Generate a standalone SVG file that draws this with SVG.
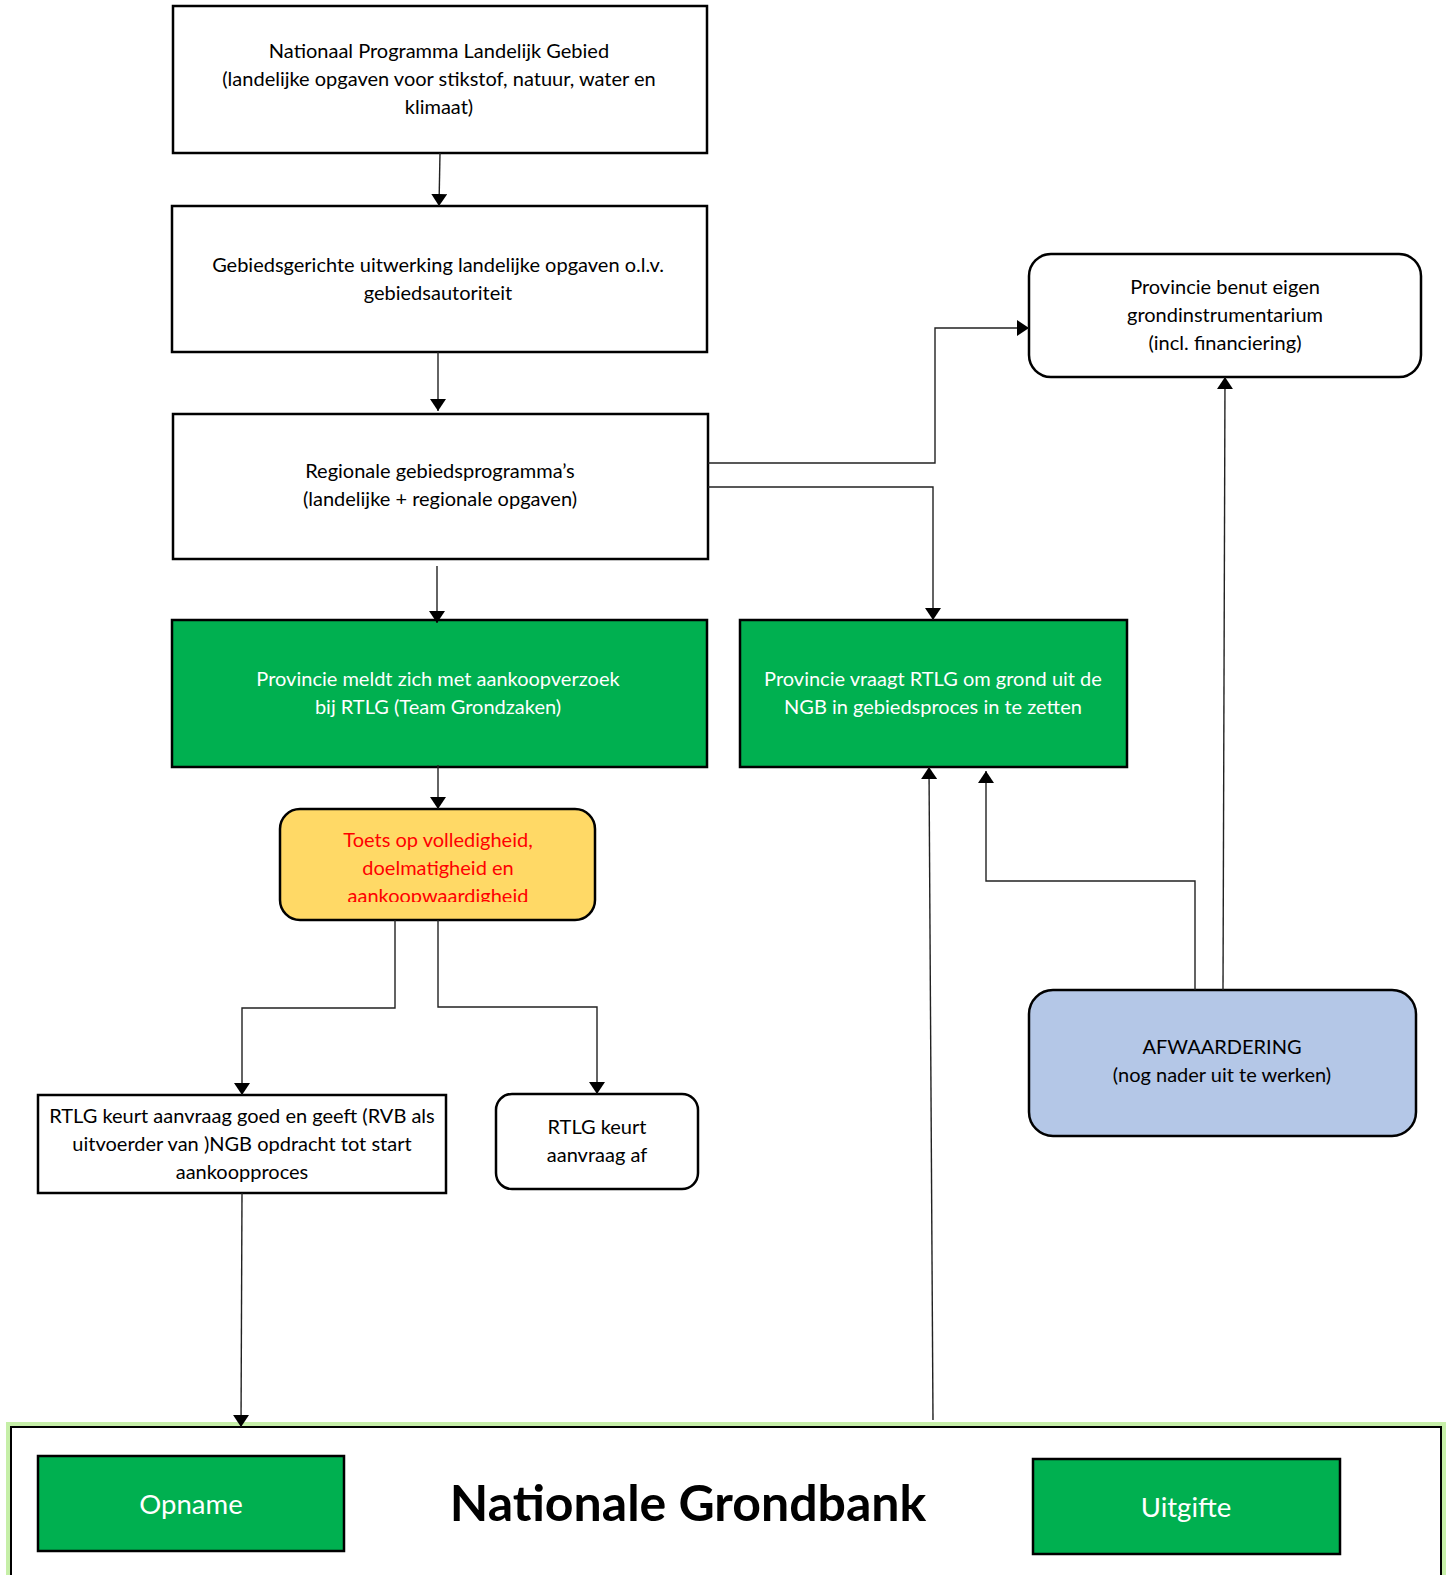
<svg xmlns="http://www.w3.org/2000/svg" width="1448" height="1575" viewBox="0 0 1448 1575">
<style>
.box{fill:#fff;stroke:#000;stroke-width:2.5}
.green{fill:#00B050;stroke:#000;stroke-width:2.5}
.t{font-family:Lato,"Open Sans","Liberation Sans",sans-serif;font-size:20px;fill:#000;text-anchor:middle}
.w{fill:#fff}
.r{fill:#FF0000}
.c{fill:none;stroke:#222;stroke-width:1.4}
</style>
<defs>
<marker id="a" viewBox="0 0 12 16" refX="12" refY="8" markerWidth="12" markerHeight="16" markerUnits="userSpaceOnUse" orient="auto">
<path d="M0,0 L12,8 L0,16 Z" fill="#000"/>
</marker>
<clipPath id="yc"><rect x="280" y="809" width="315" height="93"/></clipPath>
</defs>
<rect width="1448" height="1575" fill="#fff"/>

<g id="n1">
<rect class="box" x="173" y="6" width="534" height="147"/>
<text class="t" x="439" y="58">Nationaal Programma Landelijk Gebied</text>
<text class="t" x="439" y="86">(landelijke opgaven voor stikstof, natuur, water en</text>
<text class="t" x="439" y="114">klimaat)</text>
</g>
<g id="n2">
<rect class="box" x="172" y="206" width="535" height="146"/>
<text class="t" x="438" y="272">Gebiedsgerichte uitwerking landelijke opgaven o.l.v.</text>
<text class="t" x="438" y="300">gebiedsautoriteit</text>
</g>
<g id="n3">
<rect class="box" x="173" y="414" width="535" height="145"/>
<text class="t" x="440" y="478">Regionale gebiedsprogramma’s</text>
<text class="t" x="440" y="506">(landelijke + regionale opgaven)</text>
</g>
<g id="n4">
<rect class="green" x="172" y="620" width="535" height="147"/>
<text class="t w" x="438" y="686">Provincie meldt zich met aankoopverzoek</text>
<text class="t w" x="438" y="714">bij RTLG (Team Grondzaken)</text>
</g>
<g id="n5">
<rect class="green" x="740" y="620" width="387" height="147"/>
<text class="t w" x="933" y="686">Provincie vraagt RTLG om grond uit de</text>
<text class="t w" x="933" y="714">NGB in gebiedsproces in te zetten</text>
</g>
<g id="n6">
<rect class="box" x="1029" y="254" width="392" height="123" rx="22"/>
<text class="t" x="1225" y="294">Provincie benut eigen</text>
<text class="t" x="1225" y="322">grondinstrumentarium</text>
<text class="t" x="1225" y="350">(incl. financiering)</text>
</g>
<g id="n7">
<rect x="280" y="809" width="315" height="111" rx="20" fill="#FFD966" stroke="#000" stroke-width="2.5"/>
<g clip-path="url(#yc)">
<text class="t r" x="438" y="847">Toets op volledigheid,</text>
<text class="t r" x="438" y="875">doelmatigheid en</text>
<text class="t r" x="438" y="903">aankoopwaardigheid</text>
</g>
</g>
<g id="n8">
<rect class="box" x="38" y="1095" width="408" height="98"/>
<text class="t" x="242" y="1123">RTLG keurt aanvraag goed en geeft (RVB als</text>
<text class="t" x="242" y="1151">uitvoerder van )NGB opdracht tot start</text>
<text class="t" x="242" y="1179">aankoopproces</text>
</g>
<g id="n9">
<rect class="box" x="496" y="1094" width="202" height="95" rx="16"/>
<text class="t" x="597" y="1134">RTLG keurt</text>
<text class="t" x="597" y="1162">aanvraag af</text>
</g>
<g id="n10">
<rect x="1029" y="990" width="387" height="146" rx="24" fill="#B4C7E7" stroke="#000" stroke-width="2.5"/>
<text class="t" x="1222" y="1054">AFWAARDERING</text>
<text class="t" x="1222" y="1082">(nog nader uit te werken)</text>
</g>
<g id="n11">
<rect x="10" y="1426" width="1432" height="160" fill="#fff" stroke="#C6EFA8" stroke-width="8"/>
<rect x="11" y="1427" width="1430" height="160" fill="#fff" stroke="#000" stroke-width="2"/>
<text x="688" y="1521" font-family="Lato,'Open Sans','Liberation Sans',sans-serif" font-size="50" font-weight="bold" text-anchor="middle" fill="#000">Nationale Grondbank</text>
</g>
<g id="n12">
<rect class="green" x="38" y="1456" width="306" height="95"/>
<text x="191" y="1514" font-family="Lato,'Open Sans','Liberation Sans',sans-serif" font-size="27.5" text-anchor="middle" fill="#fff">Opname</text>
</g>
<g id="n13">
<rect class="green" x="1033" y="1459" width="307" height="95"/>
<text x="1186" y="1517" font-family="Lato,'Open Sans','Liberation Sans',sans-serif" font-size="27.5" text-anchor="middle" fill="#fff">Uitgifte</text>
</g>

<g id="connectors">
<path class="c" d="M440,153 L439,206" marker-end="url(#a)"/>
<path class="c" d="M438,352 L438,411" marker-end="url(#a)"/>
<path class="c" d="M437,566 L437,623" marker-end="url(#a)"/>
<path class="c" d="M708,463 L935,463 L935,328 L1029,328" marker-end="url(#a)"/>
<path class="c" d="M708,487 L933,487 L933,620" marker-end="url(#a)"/>
<path class="c" d="M438,765 L438,809" marker-end="url(#a)"/>
<path class="c" d="M395,920 L395,1008 L242,1008 L242,1095" marker-end="url(#a)"/>
<path class="c" d="M438,920 L438,1007 L597,1007 L597,1094" marker-end="url(#a)"/>
<path class="c" d="M242,1193 L241,1427" marker-end="url(#a)"/>
<path class="c" d="M933,1420 L929,767" marker-end="url(#a)"/>
<path class="c" d="M1195,990 L1195,881 L986,881 L986,771" marker-end="url(#a)"/>
<path class="c" d="M1223,990 L1225,377" marker-end="url(#a)"/>
</g>
</svg>
